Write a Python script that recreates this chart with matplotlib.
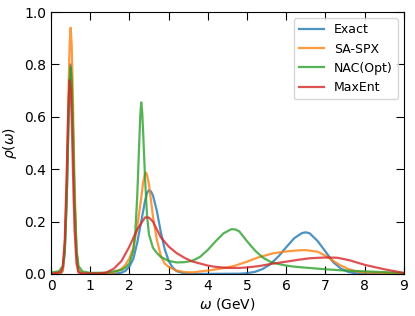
import matplotlib
matplotlib.use("Agg")
import matplotlib.pyplot as plt

# valores (omega em GeV, rho adimensional)
w_exact = [0.0, 0.25, 0.3, 0.35, 0.4, 0.425, 0.45, 0.475, 0.5, 0.525, 0.55, 0.575, 0.6, 0.65, 0.7, 0.8,
           1.6, 1.8, 1.9, 2.0, 2.1, 2.2, 2.3, 2.4, 2.45, 2.5, 2.55, 2.6, 2.7, 2.8, 2.9, 3.0, 3.1, 3.2, 3.4, 3.6,
           4.8, 5.0, 5.2, 5.4, 5.6, 5.8, 6.0, 6.2, 6.4, 6.5, 6.6, 6.8, 7.0, 7.2, 7.4, 7.6, 7.8, 8.0, 9.0]
rho_exact = [0.0, 0.002, 0.013, 0.08, 0.29, 0.45, 0.62, 0.75, 0.80, 0.75, 0.62, 0.45, 0.29, 0.08, 0.013, 0.0,
             0.0, 0.005, 0.012, 0.028, 0.058, 0.12, 0.20, 0.28, 0.31, 0.32, 0.315, 0.30, 0.24, 0.16, 0.095, 0.05, 0.025, 0.011, 0.002, 0.0,
             0.001, 0.003, 0.008, 0.019, 0.038, 0.067, 0.102, 0.136, 0.156, 0.159, 0.155, 0.126, 0.086, 0.045, 0.02, 0.007, 0.002, 0.0, 0.0]

w_spx = [0.0, 0.25, 0.3, 0.35, 0.4, 0.425, 0.45, 0.475, 0.5, 0.525, 0.55, 0.575, 0.6, 0.65, 0.7, 0.8,
         1.2, 1.6, 1.8, 1.9, 2.0, 2.1, 2.2, 2.3, 2.35, 2.4, 2.425, 2.45, 2.5, 2.6, 2.7, 2.8, 2.9, 3.0, 3.2, 3.4, 3.6,
         4.0, 4.3, 4.66, 5.0, 5.3, 5.67, 6.0, 6.3, 6.5, 6.8, 7.0, 7.2, 7.37, 7.6, 7.8, 8.0, 8.5, 9.0]
rho_spx = [0.0, 0.003, 0.015, 0.094, 0.34, 0.53, 0.73, 0.88, 0.94, 0.88, 0.73, 0.53, 0.34, 0.094, 0.015, 0.003,
           0.002, 0.005, 0.02, 0.035, 0.06, 0.10, 0.18, 0.29, 0.35, 0.383, 0.387, 0.378, 0.34, 0.22, 0.13, 0.07, 0.04, 0.027, 0.013, 0.007, 0.006,
           0.013, 0.02, 0.03, 0.047, 0.064, 0.079, 0.086, 0.09, 0.091, 0.085, 0.07, 0.05, 0.034, 0.018, 0.009, 0.006, 0.004, 0.003]

w_nac = [0.0, 0.2, 0.3, 0.35, 0.4, 0.425, 0.45, 0.475, 0.5, 0.525, 0.55, 0.575, 0.6, 0.65, 0.7, 0.8,
         1.0, 1.4, 1.6, 1.8, 1.9, 2.0, 2.1, 2.15, 2.2, 2.25, 2.275, 2.3, 2.325, 2.35, 2.4, 2.45, 2.5, 2.6, 2.7, 2.8, 3.0, 3.2, 3.4,
         3.6, 3.8, 4.0, 4.2, 4.4, 4.6, 4.7, 4.8, 5.0, 5.2, 5.4, 5.6, 5.8, 6.0, 6.2, 6.5, 7.0, 7.5, 8.0, 8.5, 9.0]
rho_nac = [0.006, 0.01, 0.03, 0.09, 0.28, 0.44, 0.61, 0.74, 0.79, 0.74, 0.61, 0.44, 0.28, 0.09, 0.03, 0.01,
           0.004, 0.005, 0.01, 0.015, 0.025, 0.04, 0.09, 0.16, 0.30, 0.50, 0.60, 0.655, 0.62, 0.54, 0.36, 0.22, 0.15, 0.10, 0.08, 0.065, 0.05, 0.044, 0.045,
           0.05, 0.065, 0.092, 0.125, 0.155, 0.171, 0.17, 0.163, 0.125, 0.09, 0.063, 0.046, 0.038, 0.032, 0.028, 0.024, 0.018, 0.013, 0.01, 0.007, 0.004]

w_mem = [0.0, 0.25, 0.3, 0.35, 0.4, 0.425, 0.45, 0.475, 0.5, 0.525, 0.55, 0.575, 0.6, 0.65, 0.7, 0.8,
         1.2, 1.4, 1.6, 1.8, 2.0, 2.2, 2.4, 2.5, 2.6, 2.8, 3.0, 3.2, 3.4, 3.6, 3.8, 4.0, 4.2, 4.5, 4.8,
         5.0, 5.3, 5.6, 6.0, 6.3, 6.6, 7.0, 7.3, 7.6, 8.0, 8.5, 9.0]
rho_mem = [0.0, 0.008, 0.027, 0.13, 0.385, 0.54, 0.675, 0.74, 0.71, 0.60, 0.45, 0.295, 0.17, 0.039, 0.005, 0.002,
           0.002, 0.005, 0.02, 0.05, 0.105, 0.17, 0.216, 0.215, 0.2, 0.14, 0.105, 0.08, 0.062, 0.048, 0.04, 0.032, 0.027, 0.023, 0.023,
           0.025, 0.03, 0.038, 0.047, 0.054, 0.06, 0.063, 0.062, 0.053, 0.035, 0.018, 0.004]

fig = plt.figure(figsize=(4.15, 3.16), dpi=100)
ax = fig.add_axes([0.123, 0.133, 0.85, 0.829])

ax.plot(w_exact, rho_exact, color='tab:blue', alpha=0.8, lw=1.6, label='Exact')
ax.plot(w_spx, rho_spx, color='tab:orange', alpha=0.8, lw=1.6, label='SA-SPX')
ax.plot(w_nac, rho_nac, color='tab:green', alpha=0.8, lw=1.6, label='NAC(Opt)')
ax.plot(w_mem, rho_mem, color='tab:red', alpha=0.8, lw=1.6, label='MaxEnt')

ax.set_xlim(0, 9)
ax.set_ylim(0, 1.0)
ax.set_xticks(range(0, 10))
ax.set_yticks([0.0, 0.2, 0.4, 0.6, 0.8, 1.0])
ax.tick_params(direction='in', top=True, right=True, length=6, labelsize=10)
ax.tick_params(axis='y', which='major', left=True, length=6)
ax.set_xlabel(r'$\omega$ (GeV)', fontsize=10, labelpad=2)
ax.set_ylabel(r'$\rho(\omega)$', fontsize=10, labelpad=4)
ax.legend(loc='upper right', fontsize=9, handlelength=2.0)

fig.savefig('out.png', dpi=100)
